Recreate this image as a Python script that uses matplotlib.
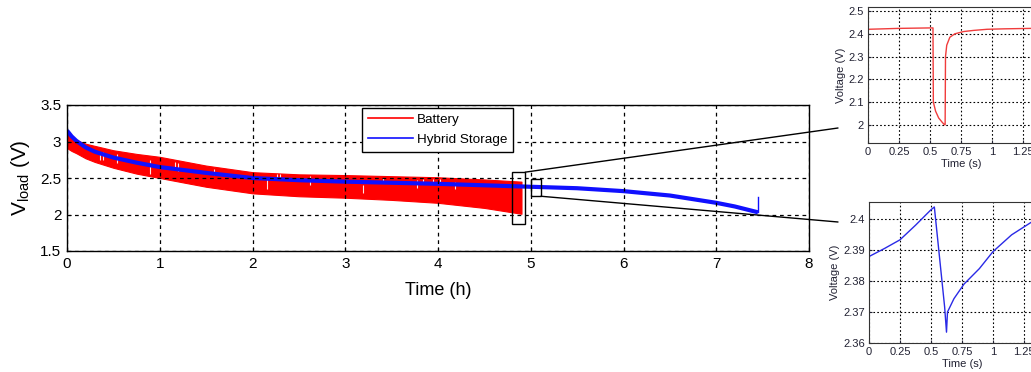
import matplotlib
matplotlib.use("Agg")
import matplotlib.pyplot as plt
from matplotlib.patches import Rectangle, ConnectionPatch
from matplotlib.lines import Line2D

plt.rcParams['font.family'] = ['Liberation Sans', 'DejaVu Sans']
plt.rcParams['mathtext.fontset'] = 'custom'
plt.rcParams['mathtext.rm'] = 'Liberation Sans'

# ---------------- data ----------------
t_batt = [0, 0.05, 0.1, 0.2, 0.3, 0.5, 0.75, 1, 1.5, 2, 2.5, 3, 3.5, 4, 4.5, 4.9]
batt_upper = [3.12, 3.06, 3.02, 2.97, 2.94, 2.88, 2.83, 2.79, 2.67, 2.58, 2.55, 2.54, 2.525, 2.51, 2.48, 2.45]
batt_lower = [2.91, 2.87, 2.84, 2.77, 2.72, 2.64, 2.56, 2.50, 2.38, 2.29, 2.25, 2.23, 2.20, 2.16, 2.09, 2.01]

# white gaps (missing pulses) inside the battery band
gap_t = [0.36, 0.39, 0.54, 0.90, 1.16, 1.20, 1.58, 2.16, 2.26, 2.30, 2.62, 3.19, 3.41, 3.77, 3.84, 3.95, 4.02, 4.18]
gap_lo = [2.74, 2.74, 2.70, 2.56, 2.62, 2.60, 2.54, 2.35, 2.48, 2.48, 2.40, 2.30, 2.43, 2.36, 2.42, 2.43, 2.43, 2.35]
gap_hi = [2.86, 2.86, 2.83, 2.74, 2.72, 2.71, 2.62, 2.48, 2.55, 2.55, 2.53, 2.40, 2.50, 2.47, 2.49, 2.49, 2.49, 2.45]

t_hyb = [0, 0.05, 0.1, 0.2, 0.3, 0.5, 0.75, 1, 1.5, 2, 2.5, 3, 3.5, 4, 4.5, 5,
         5.5, 6, 6.5, 7, 7.2, 7.45]
v_hyb = [3.15, 3.07, 3.01, 2.92, 2.86, 2.78, 2.71, 2.65, 2.57, 2.50, 2.47, 2.45,
         2.435, 2.42, 2.40, 2.38, 2.36, 2.32, 2.26, 2.16, 2.11, 2.03]
t_hyb_end = [7.45, 7.45]
v_hyb_end = [2.03, 2.24]

t_in1 = [0, 0.25, 0.50, 0.524, 0.527, 0.545, 0.57, 0.60, 0.617, 0.622, 0.625, 0.635,
         0.66, 0.70, 0.77, 0.85, 0.96, 1.1, 1.32, 1.5]
v_in1 = [2.420, 2.424, 2.426, 2.426, 2.10, 2.06, 2.03, 2.01, 2.00, 2.00, 2.30, 2.35,
         2.385, 2.400, 2.410, 2.415, 2.420, 2.422, 2.424, 2.425]

t_in2 = [0, 0.125, 0.25, 0.375, 0.5, 0.527, 0.61, 0.625, 0.633, 0.685, 0.766, 0.89,
         1.0, 1.15, 1.31, 1.5]
v_in2 = [2.3879, 2.3905, 2.3933, 2.3980, 2.4030, 2.4039, 2.3716, 2.3635, 2.3700,
         2.3743, 2.3790, 2.3840, 2.3895, 2.3949, 2.3990, 2.4030]

main_xticks = [0, 1, 2, 3, 4, 5, 6, 7, 8]
main_yticks = [1.5, 2, 2.5, 3, 3.5]
main_yticklabels = ['1.5', '2', '2.5', '3', '3.5']
in1_yticks = [2.0, 2.1, 2.2, 2.3, 2.4, 2.5]
in1_yticklabels = ['2', '2.1', '2.2', '2.3', '2.4', '2.5']
in2_yticks = [2.36, 2.37, 2.38, 2.39, 2.40]
in2_yticklabels = ['2.36', '2.37', '2.38', '2.39', '2.4']
in_xticks = [0, 0.25, 0.5, 0.75, 1, 1.25, 1.5]
in_xticklabels = ['0', '0.25', '0.5', '0.75', '1', '1.25', '1.5']

W, H = 1031, 372
fig = plt.figure(figsize=(W / 100, H / 100), dpi=100)

def fx(px):
    return px / W

def fy(py):
    return 1 - py / H

grid_kw = dict(color='black', linestyle=(0, (3, 3)), linewidth=0.9)

# ---------------- main axes ----------------
ax = fig.add_axes([fx(67), fy(251), fx(809) - fx(67), fy(105) - fy(251)])
ax.fill_between(t_batt, batt_lower, batt_upper, color='#ff0000', linewidth=0.8,
                edgecolor='#ff0000')
ax.vlines(gap_t, gap_lo, gap_hi, color='white', linewidth=0.8, alpha=0.9)
ax.plot(t_hyb, v_hyb, color='#1010ff', linewidth=3, solid_capstyle='butt')
ax.plot(t_hyb_end, v_hyb_end, color='#1010ff', linewidth=1.0)
ax.set_xlim(0, 8)
ax.set_ylim(1.5, 3.5)
ax.set_xticks(main_xticks)
ax.set_yticks(main_yticks)
ax.set_yticklabels(main_yticklabels)
ax.tick_params(direction='in', labelsize=11, length=3, pad=4)
ax.grid(True, **grid_kw)
ax.set_axisbelow(False)
for s in ax.spines.values():
    s.set_linewidth(1.0)
ax.set_xlabel('Time (h)', fontsize=13, labelpad=8)
ax.set_ylabel(r'$\mathrm{V_{load}}$ (V)', fontsize=15, labelpad=6)

handles = [Line2D([], [], color='#ff0000', lw=1.2),
           Line2D([], [], color='#1010ff', lw=1.2)]
leg = ax.legend(handles, ['Battery', 'Hybrid Storage'], loc='upper left',
                bbox_to_anchor=(fx(362 - 67) / fx(742), 0.982), fontsize=9.7,
                frameon=True, fancybox=False, edgecolor='black', framealpha=1,
                handlelength=3.3, borderpad=0.45, labelspacing=0.55,
                handletextpad=0.3, borderaxespad=0)
leg.get_frame().set_linewidth(1.0)

# zoom rectangles
ax.add_patch(Rectangle((4.80, 1.87), 0.14, 0.71, fill=False, edgecolor='black',
                       linewidth=1.0, zorder=5))
ax.add_patch(Rectangle((5.00, 2.25), 0.11, 0.24, fill=False, edgecolor='black',
                       linewidth=1.0, zorder=5))

con1 = ConnectionPatch(xyA=(4.94, 2.58), coordsA=ax.transData,
                       xyB=(fx(838), fy(128)), coordsB=fig.transFigure,
                       color='black', linewidth=1.0)
con2 = ConnectionPatch(xyA=(5.11, 2.25), coordsA=ax.transData,
                       xyB=(fx(838), fy(222)), coordsB=fig.transFigure,
                       color='black', linewidth=1.0)
fig.add_artist(con1)
fig.add_artist(con2)

# ---------------- inset 1 (battery) ----------------
txtc = '#222233'
ax1 = fig.add_axes([fx(868), fy(143), 186 / W, fy(7) - fy(143)])
ax1.plot(t_in1, v_in1, color='#f03c3c', linewidth=1.0)
ax1.set_xlim(0, 1.5)
ax1.set_ylim(1.92, 2.518)
ax1.set_xticks(in_xticks)
ax1.set_xticklabels(in_xticklabels)
ax1.set_yticks(in1_yticks)
ax1.set_yticklabels(in1_yticklabels)
ax1.tick_params(direction='in', labelsize=8, length=2, pad=3, colors=txtc)
ax1.grid(True, color='black', linestyle=(0, (1.5, 2)), linewidth=0.8)
ax1.set_xlabel('Time (s)', fontsize=8, labelpad=1, color=txtc)
ax1.set_ylabel('Voltage (V)', fontsize=8, labelpad=2, color=txtc)
for s in ax1.spines.values():
    s.set_color('#333333')

# ---------------- inset 2 (hybrid) ----------------
ax2 = fig.add_axes([fx(869), fy(343), 186 / W, fy(202) - fy(343)])
ax2.plot(t_in2, v_in2, color='#2a2ae6', linewidth=1.0)
ax2.set_xlim(0, 1.5)
ax2.set_ylim(2.36, 2.4055)
ax2.set_xticks(in_xticks)
ax2.set_xticklabels(in_xticklabels)
ax2.set_yticks(in2_yticks)
ax2.set_yticklabels(in2_yticklabels)
ax2.tick_params(direction='in', labelsize=8, length=2, pad=3, colors=txtc)
ax2.grid(True, color='black', linestyle=(0, (1.5, 2)), linewidth=0.8)
ax2.set_xlabel('Time (s)', fontsize=8, labelpad=1, color=txtc)
ax2.set_ylabel('Voltage (V)', fontsize=8, labelpad=2, color=txtc)
for s in ax2.spines.values():
    s.set_color('#333333')

fig.savefig('out.png', dpi=100)
